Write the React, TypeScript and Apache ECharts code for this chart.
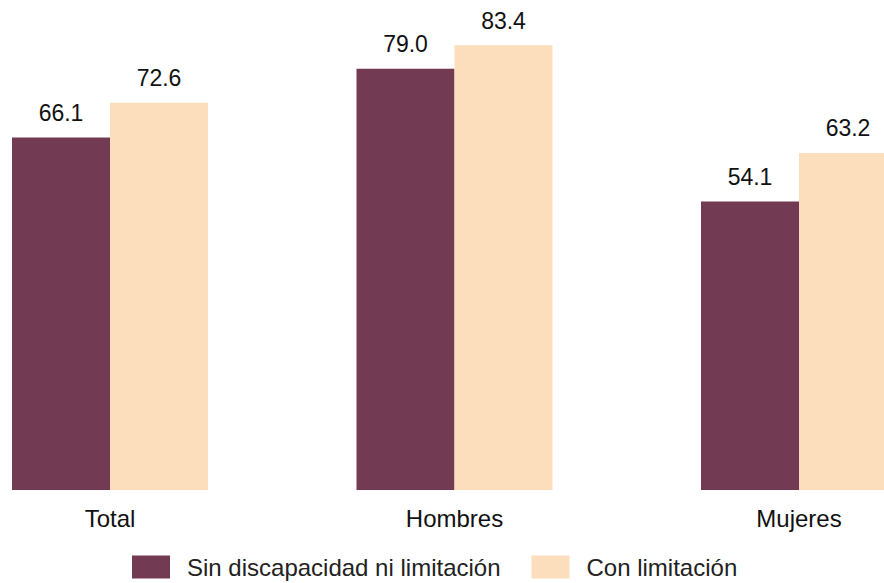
import React, { useEffect, useRef } from "react";
import * as echarts from "echarts";

const categories = ["Total", "Hombres", "Mujeres"];
const seriesNames = ["Sin discapacidad ni limitación", "Con limitación"];
const sinDiscapacidad = [66.1, 79.0, 54.1];
const conLimitacion = [72.6, 83.4, 63.2];

const FONT = "'Liberation Sans', Arial, sans-serif";

export default function App() {
  const ref = useRef<HTMLDivElement>(null);
  useEffect(() => {
    if (!ref.current) return;
    const chart = echarts.init(ref.current, undefined, { renderer: "svg" });
    const labelCfg = {
      show: true,
      position: "top" as const,
      distance: 13,
      fontSize: 23,
      fontFamily: FONT,
      color: "#111",
      formatter: (p: any) => Number(p.value).toFixed(1),
    };
    chart.setOption({
      animation: false,
      backgroundColor: "#ffffff",
      textStyle: { fontFamily: FONT },
      grid: { left: 110, right: 85, top: 10, bottom: 93, containLabel: false },
      xAxis: {
        type: "category",
        data: categories,
        boundaryGap: false,
        axisLine: { show: false },
        axisTick: { show: false },
        splitLine: { show: false },
        axisLabel: { fontSize: 24, fontFamily: FONT, color: "#111", margin: 16 },
      },
      yAxis: {
        type: "value",
        min: 0,
        max: 90,
        show: false,
        splitLine: { show: false },
      },
      legend: {
        data: seriesNames,
        left: 132,
        top: 555,
        padding: 0,
        icon: "rect",
        itemWidth: 38,
        itemHeight: 23,
        itemGap: 31,
        textStyle: { fontSize: 24, fontFamily: FONT, color: "#222", padding: [0, 0, 0, 12] },
      },
      series: [
        {
          name: seriesNames[0],
          type: "bar",
          data: sinDiscapacidad,
          barWidth: 98,
          barGap: "0%",
          clip: false,
          itemStyle: { color: "#733A53" },
          label: labelCfg,
        },
        {
          name: seriesNames[1],
          type: "bar",
          data: conLimitacion,
          barWidth: 98,
          barGap: "0%",
          clip: false,
          itemStyle: { color: "#FCDEBC" },
          label: labelCfg,
        },
      ],
    });
    return () => chart.dispose();
  }, []);
  return (
    <div
      ref={ref}
      style={{ position: "absolute", left: 0, top: 0, width: 884, height: 583 }}
    />
  );
}
